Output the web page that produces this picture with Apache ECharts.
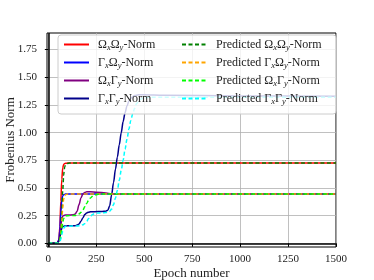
<!DOCTYPE html>
<html><head><meta charset="utf-8">
<script src="https://cdn.jsdelivr.net/npm/echarts@6/dist/echarts.min.js"></script>
<style>html,body{margin:0;padding:0;background:#fff}#c{width:374px;height:280px}</style>
</head><body><div id="c"></div>
<script>
const xTicks = [0, 250, 500, 750, 1000, 1250, 1500];
const yTicks = [0, 0.25, 0.5, 0.75, 1.0, 1.25, 1.5, 1.75];

const seriesNames = ['ΩxΩy-Norm', 'ΓxΩy-Norm', 'ΩxΓy-Norm', 'ΓxΓy-Norm',
  'Predicted ΩxΩy-Norm', 'Predicted ΓxΩy-Norm', 'Predicted ΩxΓy-Norm', 'Predicted ΓxΓy-Norm'];
const seriesColors = ['#ff0000', '#0000ff', '#800080', '#00008b', '#008000', '#ffa500', '#00ff00', '#00ffff'];

// Ωx Ωy
const ooEpochs = [0, 45, 55, 60, 65, 70, 75, 80, 90, 100, 200, 1500];
const ooValues = [0, 0, 0.03, 0.15, 0.38, 0.58, 0.68, 0.715, 0.724, 0.725, 0.725, 0.725];
// Γx Ωy
const goEpochs = [0, 45, 55, 60, 65, 70, 75, 80, 90, 1500];
const goValues = [0, 0, 0.03, 0.12, 0.28, 0.39, 0.43, 0.44, 0.445, 0.445];
// Ωx Γy
const ogEpochs = [0, 45, 55, 60, 65, 70, 75, 80, 90, 100, 130, 140, 150, 160, 170, 180, 190, 200, 220, 250, 300, 330, 350, 1500];
const ogValues = [0, 0, 0.02, 0.07, 0.16, 0.22, 0.245, 0.252, 0.255, 0.256, 0.258, 0.265, 0.29, 0.35, 0.41, 0.445, 0.46, 0.465, 0.465, 0.462, 0.455, 0.448, 0.445, 0.445];
// Γx Γy
const ggEpochs = [0, 45, 55, 60, 65, 70, 75, 80, 90, 100, 140, 150, 160, 170, 180, 190, 200, 210, 220, 240, 280, 300, 310, 320, 330, 340, 350, 360, 370, 380, 390, 400, 410, 420, 430, 440, 450, 470, 500, 600, 1000, 1500];
const ggValues = [0, 0, 0.02, 0.05, 0.1, 0.135, 0.15, 0.155, 0.157, 0.158, 0.16, 0.165, 0.175, 0.2, 0.23, 0.26, 0.275, 0.282, 0.285, 0.286, 0.288, 0.29, 0.3, 0.34, 0.44, 0.55, 0.67, 0.78, 0.89, 1.0, 1.1, 1.18, 1.24, 1.285, 1.31, 1.325, 1.335, 1.342, 1.343, 1.338, 1.332, 1.328];
// Predicted Ωx Ωy
const pooEpochs = [0, 50, 60, 65, 70, 75, 80, 85, 90, 100, 110, 1500];
const pooValues = [0, 0, 0.02, 0.1, 0.28, 0.48, 0.62, 0.69, 0.71, 0.722, 0.725, 0.725];
// Predicted Γx Ωy
const pgoEpochs = [0, 50, 60, 65, 70, 75, 80, 85, 90, 100, 1500];
const pgoValues = [0, 0, 0.02, 0.08, 0.2, 0.32, 0.4, 0.43, 0.44, 0.445, 0.445];
// Predicted Ωx Γy
const pogEpochs = [0, 50, 60, 65, 70, 75, 80, 85, 90, 100, 140, 150, 160, 170, 180, 190, 200, 210, 220, 230, 240, 250, 260, 280, 1500];
const pogValues = [0, 0, 0.02, 0.06, 0.13, 0.19, 0.225, 0.24, 0.248, 0.25, 0.252, 0.256, 0.265, 0.28, 0.3, 0.33, 0.36, 0.39, 0.41, 0.425, 0.435, 0.44, 0.443, 0.445, 0.445];
// Predicted Γx Γy
const pggEpochs = [0, 50, 60, 65, 70, 75, 80, 85, 90, 100, 150, 170, 180, 190, 200, 210, 220, 230, 240, 250, 260, 280, 300, 320, 330, 340, 350, 360, 370, 380, 390, 400, 410, 420, 430, 440, 450, 460, 470, 480, 490, 500, 520, 1500];
const pggValues = [0, 0, 0.01, 0.04, 0.08, 0.11, 0.135, 0.148, 0.153, 0.155, 0.157, 0.16, 0.167, 0.18, 0.2, 0.225, 0.245, 0.26, 0.268, 0.272, 0.274, 0.276, 0.278, 0.29, 0.31, 0.35, 0.41, 0.48, 0.57, 0.66, 0.75, 0.85, 0.94, 1.03, 1.11, 1.17, 1.22, 1.26, 1.285, 1.3, 1.31, 1.315, 1.32, 1.32];

const allEpochs = [ooEpochs, goEpochs, ogEpochs, ggEpochs, pooEpochs, pgoEpochs, pogEpochs, pggEpochs];
const allValues = [ooValues, goValues, ogValues, ggValues, pooValues, pgoValues, pogValues, pggValues];

const FONT = 'Liberation Serif';
const series = seriesNames.map((name, i) => ({
  type: 'line', name: name, symbol: 'none', smooth: 0.3, smoothMonotone: 'x',
  data: allEpochs[i].map((e, j) => [e, allValues[i][j]]),
  lineStyle: { color: seriesColors[i], width: 1.5, type: i >= 4 ? [4, 2.5] : 'solid' },
  itemStyle: { color: seriesColors[i] },
  emphasis: { disabled: true }
}));
series[0].markLine = {
  silent: true, symbol: ['none', 'none'], label: { show: false },
  lineStyle: { color: '#000', width: 1.5, type: 'solid' },
  data: [{ yAxis: 0 }, { xAxis: 0 }]
};

function fmt(name) {
  return name.replace(/([ΩΓ])([xy])/g, '{m|$1}{s|$2}');
}
const rich = {
  m: { fontFamily: FONT, fontSize: 12, lineHeight: 14, color: '#222' },
  s: { fontFamily: FONT, fontSize: 8.5, fontStyle: 'italic', lineHeight: 8, padding: [6, 0, 0, 0], color: '#222' }
};
const legendBase = {
  orient: 'vertical', padding: 0, itemWidth: 25, itemHeight: 14, itemGap: 3,
  top: 37, formatter: fmt, selectedMode: false,
  itemStyle: { opacity: 0, borderWidth: 0 },
  textStyle: { fontFamily: FONT, fontSize: 12, lineHeight: 14, color: '#222', padding: [0, 0, 0, 4], rich: rich }
};

const chart = echarts.init(document.getElementById('c'), null, { renderer: 'canvas' });
chart.setOption({
  animation: false,
  backgroundColor: '#fff',
  grid: { left: 47, right: 38, top: 33, bottom: 33, outerBoundsMode: 'none', containLabel: false,
    show: true, borderColor: '#000', borderWidth: 1, backgroundColor: 'transparent' },
  xAxis: {
    type: 'value', min: -7, max: 1500,
    name: 'Epoch number', nameLocation: 'middle', nameGap: 20, nameMoveOverlap: false,
    nameTextStyle: { fontFamily: FONT, fontSize: 13, color: '#222' },
    axisLine: { show: false },
    axisTick: { show: true, length: 3.5, customValues: xTicks, lineStyle: { color: '#000' } },
    axisLabel: { customValues: xTicks, margin: 7, fontFamily: FONT, fontSize: 11, color: '#222', formatter: v => String(v) },
    splitLine: { show: true, lineStyle: { color: '#b0b0b0', width: 0.8 } }
  },
  yAxis: {
    type: 'value', min: -0.033, max: 1.9,
    name: 'Frobenius Norm', nameLocation: 'middle', nameGap: 30, nameMoveOverlap: false,
    nameTextStyle: { fontFamily: FONT, fontSize: 13, color: '#222' },
    axisLine: { show: false },
    axisTick: { show: true, length: 3.5, customValues: yTicks, lineStyle: { color: '#000' } },
    axisLabel: { customValues: yTicks, margin: 10, fontFamily: FONT, fontSize: 11, color: '#222', formatter: v => v.toFixed(2) },
    splitLine: { show: true, lineStyle: { color: '#b0b0b0', width: 0.8 } }
  },
  legend: [
    Object.assign({}, legendBase, {
      left: 58, top: 35, padding: [2, 0, 8, 5], data: seriesNames.slice(0, 4),
      backgroundColor: 'rgba(255,255,255,0.8)', borderColor: '#cccccc', borderWidth: 1, borderRadius: 3,
      textStyle: Object.assign({}, legendBase.textStyle, { width: 238 })
    }),
    Object.assign({}, legendBase, { left: 181, z: 5, data: seriesNames.slice(4) })
  ],
  series: series
});
</script>
</body></html>
